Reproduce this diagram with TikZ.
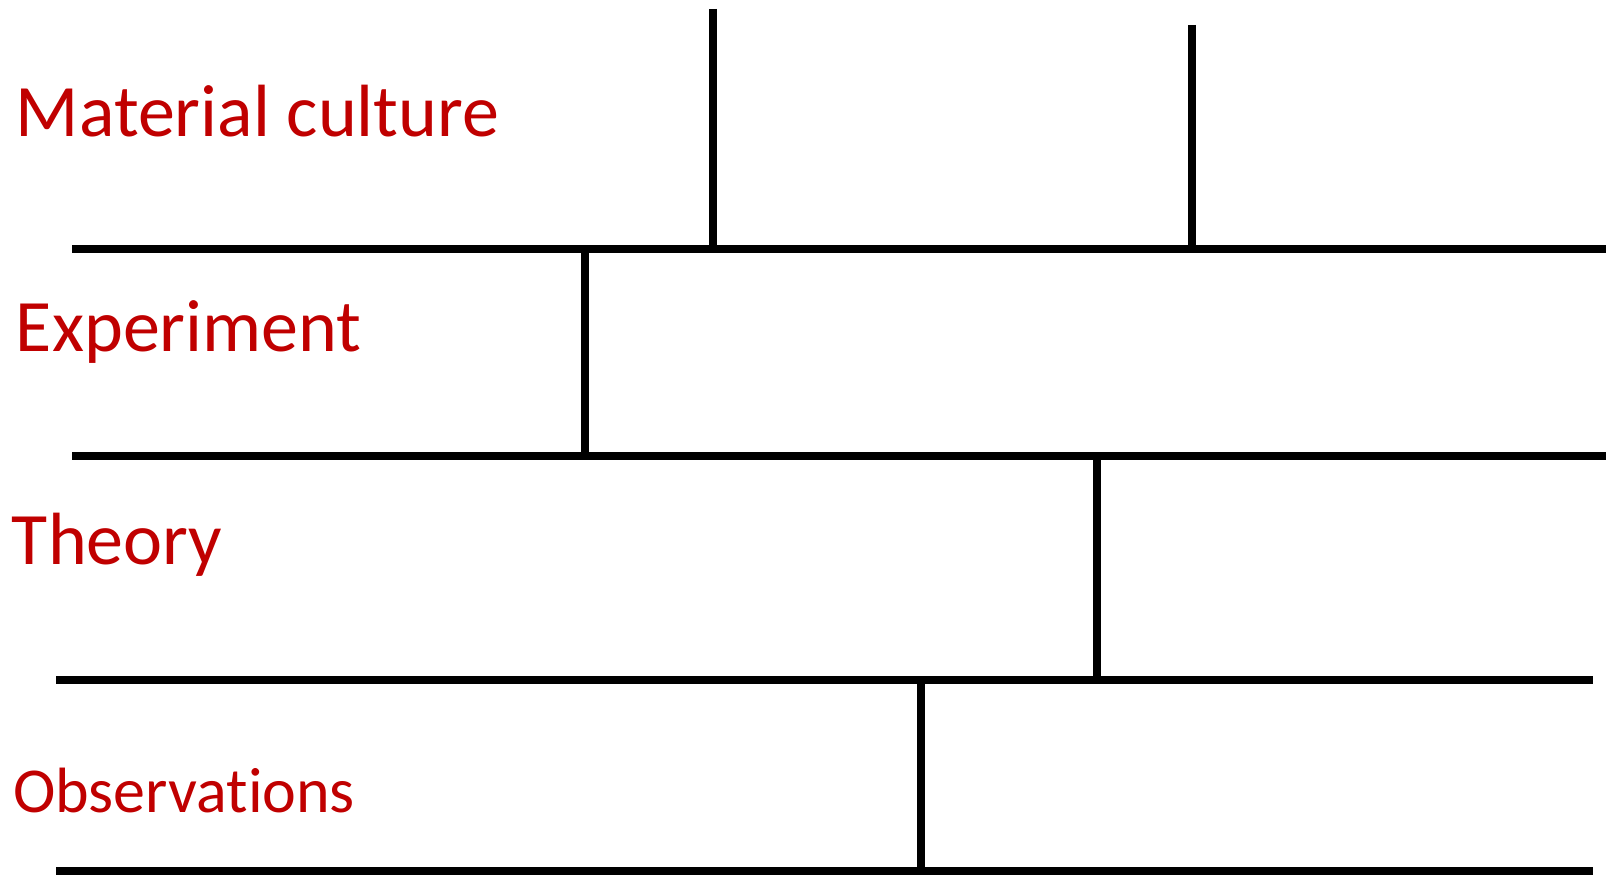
\documentclass[tikz,border=0pt]{standalone}
\usepackage{fontspec}
\setmainfont[Ligatures={NoCommon,NoContextual},Contextuals={NoAlternate}]{Carlito}
\definecolor{labelred}{HTML}{C00000}
\begin{document}
\begin{tikzpicture}[x=1pt,y=-1pt,
  hline/.style={line width=8pt},
  vline/.style={line width=7.5pt},
  lbl/.style={anchor=base west,inner sep=0pt,outer sep=0pt,text=labelred,font=\fontsize{74}{88}\selectfont},
  lblsmall/.style={lbl,font=\fontsize{64}{76}\selectfont}]
\useasboundingbox (0,0) rectangle (1606,875);
% horizontal line ends
\coordinate (h1l) at (72,249);   \coordinate (h1r) at (1606,249);
\coordinate (h2l) at (72,456);   \coordinate (h2r) at (1606,456);
\coordinate (h3l) at (56,680);   \coordinate (h3r) at (1593,680);
\coordinate (h4l) at (56,871);   \coordinate (h4r) at (1593,871);
% vertical line ends
\coordinate (a1) at (713,9);     \coordinate (a2) at (713,249);
\coordinate (b1) at (1192,25);   \coordinate (b2) at (1192,249);
\coordinate (c1) at (585,249);   \coordinate (c2) at (585,456);
\coordinate (d1) at (1097,456);  \coordinate (d2) at (1097,680);
\coordinate (e1) at (921,680);   \coordinate (e2) at (921,871);
\draw[hline] (h1l) -- (h1r);
\draw[hline] (h2l) -- (h2r);
\draw[hline] (h3l) -- (h3r);
\draw[hline] (h4l) -- (h4r);
\draw[vline] (a1) -- (a2);
\draw[vline] (b1) -- (b2);
\draw[vline] (c1) -- (c2);
\draw[vline] (d1) -- (d2);
\draw[vline] (e1) -- (e2);
\node[lbl] (mat) at (16,136) {Material culture};
\node[lbl] (exp) at (16,351) {Experiment};
\node[lbl] (the) at (12,564) {Theory};
\node[lblsmall] (obs) at (13,812) {Observations};
\end{tikzpicture}
\end{document}
